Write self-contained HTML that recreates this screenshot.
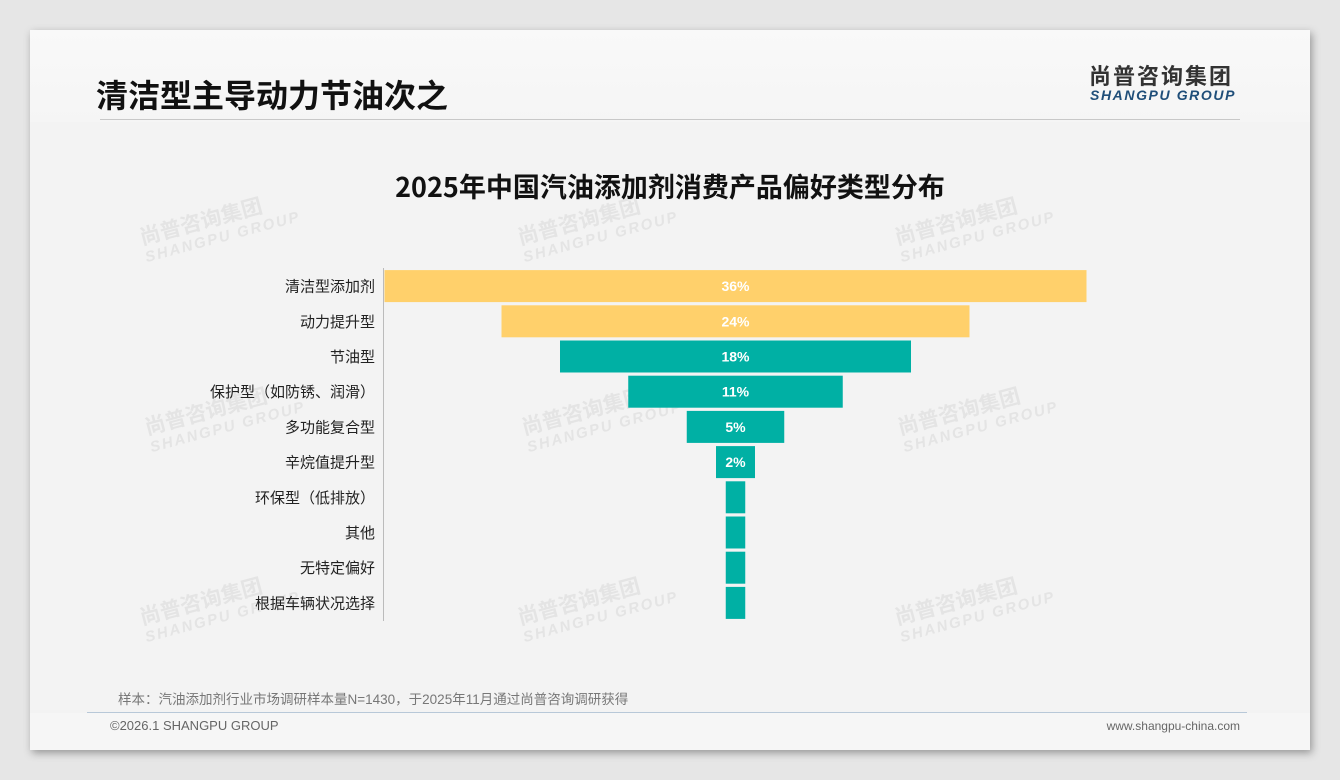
<!DOCTYPE html>
<html><head><meta charset="utf-8"><style>
body{margin:0;width:1340px;height:780px;background:#e6e6e6;position:relative;overflow:hidden;font-family:"Liberation Sans","Noto Sans CJK SC",sans-serif}
.slide{position:absolute;left:30px;top:30px;width:1280px;height:720px;background:#f3f3f3;box-shadow:2px 3px 8px rgba(0,0,0,.35)}
.hdr{position:absolute;left:0;top:0;width:1280px;height:92px;background:linear-gradient(#f9f9f9,#f5f5f5)}
.ttl{position:absolute;left:66px;top:42px;font-size:32px;line-height:44px;font-weight:bold;color:#111;font-family:"Noto Sans CJK SC",sans-serif}
.hline{position:absolute;left:70px;top:89px;width:1140px;height:1px;background:#c8c8c8}
.logo{position:absolute;left:1059px;top:30px;font-size:22px;line-height:30px;font-weight:bold;color:#333;font-family:"Noto Sans CJK SC",sans-serif;letter-spacing:2px}
.logo2{position:absolute;left:1060px;top:57px;font-size:14px;font-weight:bold;font-style:italic;color:#1f4e79;letter-spacing:1.6px}
.ct{position:absolute;left:0;width:1280px;top:136px;line-height:40px;text-align:center;font-size:27px;font-weight:bold;color:#111;font-family:"Noto Sans CJK SC",sans-serif}
.wm{position:absolute;color:#e4e4e4;font-weight:bold;transform:rotate(-15deg);font-size:21px;line-height:22px;font-family:"Noto Sans CJK SC",sans-serif}
.wm span{display:block;font-size:15px;font-style:italic;font-family:"Liberation Sans",sans-serif;letter-spacing:2px}
.note{position:absolute;left:88px;top:658px;font-size:13.5px;color:#777}
.fline{position:absolute;left:57px;top:682px;width:1160px;height:1px;background:#b8c8d8}
.foot{position:absolute;top:683px;left:0;width:1280px;height:37px;background:#f6f6f6}
.fl{position:absolute;left:80px;top:688px;font-size:13px;color:#666}
.fr{position:absolute;right:70px;top:689px;font-size:12px;color:#666}
</style></head><body>
<div class="slide">
<div class="hdr"></div>
<div class="ttl">清洁型主导动力节油次之</div>
<div class="hline"></div>
<div class="logo">尚普咨询集团</div>
<div class="logo2">SHANGPU GROUP</div>
<div class="wm" style="left:110px;top:175px">尚普咨询集团<span>SHANGPU GROUP</span></div>
<div class="wm" style="left:488px;top:175px">尚普咨询集团<span>SHANGPU GROUP</span></div>
<div class="wm" style="left:865px;top:175px">尚普咨询集团<span>SHANGPU GROUP</span></div>
<div class="wm" style="left:115px;top:365px">尚普咨询集团<span>SHANGPU GROUP</span></div>
<div class="wm" style="left:492px;top:365px">尚普咨询集团<span>SHANGPU GROUP</span></div>
<div class="wm" style="left:868px;top:365px">尚普咨询集团<span>SHANGPU GROUP</span></div>
<div class="wm" style="left:110px;top:555px">尚普咨询集团<span>SHANGPU GROUP</span></div>
<div class="wm" style="left:488px;top:555px">尚普咨询集团<span>SHANGPU GROUP</span></div>
<div class="wm" style="left:865px;top:555px">尚普咨询集团<span>SHANGPU GROUP</span></div>
<div class="ct">2025年中国汽油添加剂消费产品偏好类型分布</div>
<div class="note">样本：汽油添加剂行业市场调研样本量N=1430，于2025年11月通过尚普咨询调研获得</div>
<div class="foot"></div>
<div class="fline"></div>
<div class="fl">©2026.1 SHANGPU GROUP</div>
<div class="fr">www.shangpu-china.com</div>
</div>
<svg id="chart" width="1340" height="780" style="position:absolute;left:0;top:0"></svg>
<script>
const categories=["清洁型添加剂","动力提升型","节油型","保护型（如防锈、润滑）","多功能复合型","辛烷值提升型","环保型（低排放）","其他","无特定偏好","根据车辆状况选择"];
const values=[36,24,18,11,5,2,1,1,1,1];
const colors=["#FFD06B","#FFD06B","#00B0A4","#00B0A4","#00B0A4","#00B0A4","#00B0A4","#00B0A4","#00B0A4","#00B0A4"];
const svg=document.getElementById('chart');
const NS="http://www.w3.org/2000/svg";
const cx=735.5, pxPer=19.5, top0=268.5, pitch=35.2, bh=32;
const xw=v=>v*pxPer;
const yc=i=>top0+pitch*i+pitch/2;
const ax=document.createElementNS(NS,'line');
ax.setAttribute('x1',383.5);ax.setAttribute('x2',383.5);ax.setAttribute('y1',268);ax.setAttribute('y2',621);
ax.setAttribute('stroke','#bbb');


svg.appendChild(ax);
categories.forEach((c,i)=>{
 const w=xw(values[i]);
 const r=document.createElementNS(NS,'rect');
 r.setAttribute('x',cx-w/2);r.setAttribute('y',yc(i)-bh/2);r.setAttribute('width',w);r.setAttribute('height',bh);r.setAttribute('fill',colors[i]);
 
 
 svg.appendChild(r);
 const t=document.createElementNS(NS,'text');
 t.setAttribute('x',375);t.setAttribute('y',yc(i)+5.5);t.setAttribute('text-anchor','end');t.setAttribute('font-size','15');t.setAttribute('fill','#222');
 t.setAttribute('font-family','"Liberation Sans","Noto Sans CJK SC",sans-serif');
 t.textContent=c;
 
 
 svg.appendChild(t);
 if(values[i]>=2){
  const v=document.createElementNS(NS,'text');
  v.setAttribute('x',cx);v.setAttribute('y',yc(i)+5);v.setAttribute('text-anchor','middle');v.setAttribute('font-size','14');v.setAttribute('font-weight','bold');v.setAttribute('fill','#fff');
  v.setAttribute('font-family','"Liberation Sans",sans-serif');
  v.textContent=values[i]+'%';
  
  
  svg.appendChild(v);
 }
});
</script>
</body></html>
